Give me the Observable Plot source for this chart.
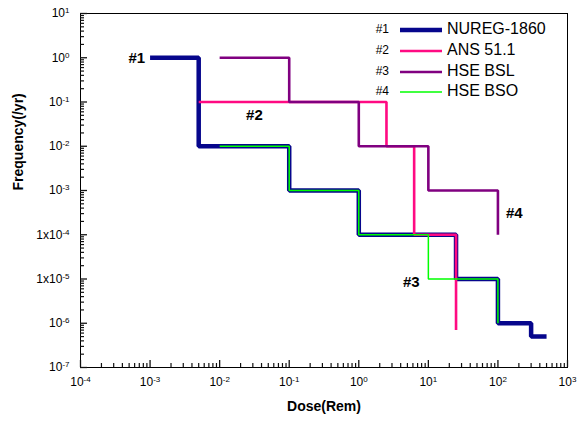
<!DOCTYPE html>
<html><head><meta charset="utf-8">
<script src="https://cdn.jsdelivr.net/npm/d3@7"></script>
<script src="https://cdn.jsdelivr.net/npm/@observablehq/plot@0.6"></script>
<style>
body{margin:0;background:#fff;font-family:Arial,"Liberation Sans",sans-serif}
#wrap{position:relative;width:580px;height:421px}
.leg{position:absolute;white-space:nowrap;line-height:1}
</style>
</head><body><div id="wrap"></div>
<script>
// ---- data ----
const seriesNames = ["NUREG-1860", "ANS 51.1", "HSE BSL", "HSE BSO"];
const seriesTags = ["#1", "#2", "#3", "#4"];
const seriesColors = ["#06068c", "#ff0a82", "#800080", "#00ff00"];
const seriesWidths = [4.5, 2.6, 2.6, 1.5];

const nuregDose = [1e-3, 5e-3, 0.1, 1, 25, 100, 300, 500];
const nuregFreq = [1, 1e-2, 1e-3, 1e-4, 1e-5, 1e-6, 5e-7, 5e-7];
const ansDose = [5e-3, 2.5, 6.25, 25];
const ansFreq = [0.1, 0.01, 1e-4, 7e-7];
const bslDose = [0.01, 0.1, 1, 10, 100];
const bslFreq = [1, 0.1, 0.01, 1e-3, 1e-4];
const bsoDose = [0.01, 0.1, 1, 10, 100];
const bsoFreq = [0.01, 1e-3, 1e-4, 1e-5, 1e-6];

const noteTags = ["#1", "#2", "#3", "#4"];
const noteDose = [1e-3, 0.0316, 5.7, 172];
const noteFreq = [1, 0.0495, 8.3e-6, 3e-4];
const noteAnchor = ["end", "middle", "middle", "middle"];

const xTickExps = [-4, -3, -2, -1, 0, 1, 2, 3];
const yTickExps = [1, 0, -1, -2, -3, -4, -5, -6, -7];
const yTickPrefix = ["", "", "", "", "", "1x", "1x", "", ""];

// ---- build ----
const W = 580, H = 421, ML = 80, MR = 13, MT = 13, MB = 54;
const FW = W - ML - MR, FH = H - MT - MB;
const doses = [nuregDose, ansDose, bslDose, bsoDose];
const freqs = [nuregFreq, ansFreq, bslFreq, bsoFreq];
const rows = [];
doses.forEach((ds, s) => ds.forEach((d, i) => rows.push({s, dose: d, freq: freqs[s][i]})));

const minor = (exps) => {
  const out = [];
  for (let k = 0; k < exps.length - 1; k++) {
    const lo = Math.min(exps[k], exps[k + 1]);
    for (let m = 2; m <= 9; m++) out.push(m * Math.pow(10, lo));
  }
  return out;
};
const xMajor = xTickExps.map(e => Math.pow(10, e));
const yMajor = yTickExps.map(e => Math.pow(10, e));
const xFmt = v => "10^" + Math.round(Math.log10(v));
const yFmt = v => { const e = Math.round(Math.log10(v)); return yTickPrefix[yTickExps.indexOf(e)] + "10^" + e; };

const notes = noteTags.map((t, i) => ({t, dose: noteDose[i], freq: noteFreq[i], a: noteAnchor[i]}));

const marks = [
  Plot.frame({stroke: "#000", strokeWidth: 1}),
  Plot.tickX(xMajor, {x: d => d, insetTop: FH - 7, stroke: "#111", strokeWidth: 1.3}),
  Plot.tickX(minor(xTickExps), {x: d => d, insetTop: FH - 4, stroke: "#111", strokeWidth: 1.2}),
  Plot.tickY(yMajor, {y: d => d, insetRight: FW - 7, stroke: "#111", strokeWidth: 1.3}),
  Plot.tickY(minor(yTickExps), {y: d => d, insetRight: FW - 4, stroke: "#111", strokeWidth: 1.2}),
  Plot.axisX(xMajor, {tickSize: 0, tickPadding: 10, tickFormat: xFmt, fontSize: 12, fill: "#000", label: null}),
  Plot.axisY(yMajor, {tickSize: 0, tickPadding: 11, tickFormat: yFmt, fontSize: 12, fill: "#000", label: null})
];
[0, 1, 2, 3].forEach(s => {
  marks.push(Plot.line(rows.filter(r => r.s === s), {
    x: "dose", y: "freq", curve: "step-after",
    stroke: seriesColors[s], strokeWidth: seriesWidths[s], strokeLinejoin: "miter", strokeLinecap: "butt"
  }));
});
notes.forEach(n => marks.push(Plot.text([n], {x: "dose", y: "freq", text: "t", textAnchor: n.a, dx: n.a === "end" ? -5 : 0,
  fontSize: 15, fontWeight: "bold", fill: "#000"})));
marks.push(Plot.text(["Dose(Rem)"], {frameAnchor: "bottom", dy: 43, fontSize: 14, fontWeight: "bold", fill: "#000"}));
marks.push(Plot.text(["Frequency(/yr)"], {frameAnchor: "left", dx: -62, rotate: -90, fontSize: 14, fontWeight: "bold", fill: "#000"}));

const chart = Plot.plot({
  width: W, height: H,
  marginLeft: ML, marginRight: MR, marginTop: MT, marginBottom: MB,
  style: {fontFamily: "Arial, 'Liberation Sans', sans-serif", background: "#fff", overflow: "visible"},
  x: {type: "log", domain: [1e-4, 1e3], axis: null},
  y: {type: "log", domain: [1e-7, 10], axis: null},
  marks
});
const wrap = document.getElementById("wrap");
wrap.appendChild(chart);

// superscript formatting for tick labels
d3.select(chart).selectAll("text").each(function () {
  const el = d3.select(this);
  const txt = this.textContent;
  const m = /^(1x)?10\^(-?\d+)$/.exec(txt);
  if (!m) return;
  el.text(null);
  el.append("tspan").text((m[1] || "") + "10");
  el.append("tspan").attr("dy", "-0.5em").attr("font-size", 8).text(m[2]);
});

// legend
const legTop = [30, 51, 72, 92];
seriesNames.forEach((name, i) => {
  const y = legTop[i];
  const tag = document.createElement("div");
  tag.className = "leg";
  tag.style.cssText = `right:${580 - 389}px;top:${y - 7}px;font-size:12px;`;
  tag.textContent = seriesTags[i];
  wrap.appendChild(tag);
  const sw = document.createElementNS("http://www.w3.org/2000/svg", "svg");
  sw.setAttribute("width", 44); sw.setAttribute("height", 10);
  sw.style.cssText = `position:absolute;left:399px;top:${y - 5}px;`;
  const ln = document.createElementNS("http://www.w3.org/2000/svg", "line");
  ln.setAttribute("x1", 1); ln.setAttribute("x2", 43); ln.setAttribute("y1", 5); ln.setAttribute("y2", 5);
  ln.setAttribute("stroke", seriesColors[i]); ln.setAttribute("stroke-width", seriesWidths[i]);
  sw.appendChild(ln); wrap.appendChild(sw);
  const lab = document.createElement("div");
  lab.className = "leg";
  lab.style.cssText = `left:447px;top:${y - 9}px;font-size:16px;`;
  lab.textContent = name;
  wrap.appendChild(lab);
});
</script>
</body></html>
